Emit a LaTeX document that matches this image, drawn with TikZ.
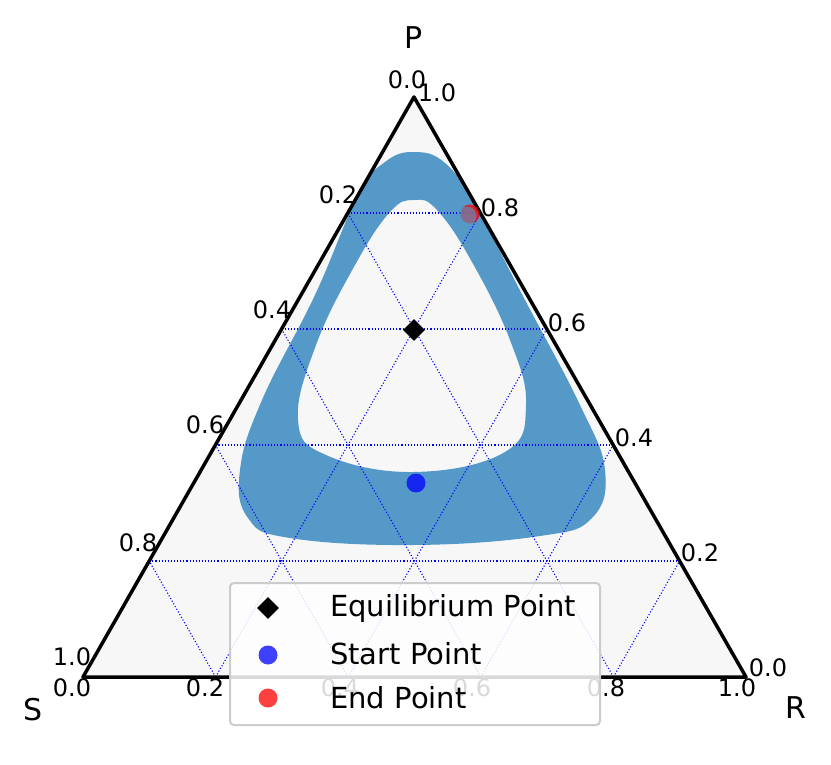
\documentclass[tikz,border=0pt]{standalone}
\usepackage{fontspec}
\setmainfont{DejaVu Sans}
\usetikzlibrary{calc,shapes.geometric}
\definecolor{band}{RGB}{84,153,199}
\definecolor{tri}{RGB}{247,247,247}
\tikzset{grid/.style={blue,dotted,line width=1.1pt},
 tick/.style={font=\fontsize{24}{24}\selectfont,inner sep=0pt},
 vlab/.style={font=\fontsize{30}{30}\selectfont,inner sep=0pt},
 leg/.style={font=\fontsize{29}{29}\selectfont,anchor=west,inner sep=0pt}}
\begin{document}
\begin{tikzpicture}[x=1pt,y=-1pt]
\useasboundingbox (0,0) rectangle (831,765);
\coordinate (S) at (83,677); \coordinate (R) at (746,677); \coordinate (P) at (414,97);
\fill[tri] (S)--(R)--(P)--cycle;
\fill[band,even odd rule] plot[smooth cycle,tension=0.7] coordinates {(414,152) (445,163) (475,205) (525,300) (580,405) (605,470) (592,518) (540,536) (414,545) (290,538) (248,518) (240,470) (262,400) (315,295) (358,195) (385,162)}
 plot[smooth cycle,tension=0.7] coordinates {(414,200) (437,210) (472,262) (510,340) (526,405) (505,452) (414,472) (326,455) (298,420) (316,345) (355,265) (390,212)};
\foreach \v in {0.2,0.4,0.6,0.8}{
 \draw[grid] ($(S)!\v!(P)$) -- ($(R)!\v!(P)$);
 \draw[grid] ($(S)!\v!(R)$) -- ($(P)!\v!(R)$);
 \draw[grid] ($(R)!\v!(S)$) -- ($(P)!\v!(S)$);
}
\draw[line width=3.5pt,line join=round] (S)--(R)--(P)--cycle;
\node[diamond,fill=black,minimum size=22pt,inner sep=0pt] (eq) at (414,330) {};
\node[circle,fill=blue,opacity=0.75,minimum size=19pt,inner sep=0pt] (st) at (416,483) {};
\node[circle,fill=red,opacity=0.75,minimum size=19pt,inner sep=0pt] (en) at (470,214) {};
\node[circle,fill=band,opacity=0.6,minimum size=19pt,inner sep=0pt] at (467,216) {};
% ticks
\node[tick] (l0) at (407,80) {0.0}; \node[tick] (l2) at (338,195) {0.2};
\node[tick] (l4) at (272,310) {0.4}; \node[tick] (l6) at (205,425) {0.6};
\node[tick] (l8) at (138,543) {0.8}; \node[tick] (l10) at (72,657) {1.0};
\node[tick] (r10) at (437,93) {1.0}; \node[tick] (r8) at (500,208) {0.8};
\node[tick] (r6) at (567,323) {0.6}; \node[tick] (r4) at (634,438) {0.4};
\node[tick] (r2) at (700,553) {0.2}; \node[tick] (r0) at (768,668) {0.0};
\node[tick] (b0) at (72,688) {0.0}; \node[tick] (b2) at (205,688) {0.2};
\node[tick] (b4) at (340,688) {0.4}; \node[tick] (b6) at (472,688) {0.6};
\node[tick] (b8) at (606,688) {0.8}; \node[tick] (b10) at (737,688) {1.0};
\node[vlab] (pl) at (414,38) {P}; \node[vlab] (sl) at (33,710) {S}; \node[vlab] (rl) at (796,708) {R};
% legend
\draw[gray!40,line width=2pt,fill=white,fill opacity=0.85,rounded corners=4pt] (230,583) rectangle (600,725);
\node[diamond,fill=black,minimum size=22pt,inner sep=0pt] (k1) at (268,608) {};
\node[circle,fill=blue,opacity=0.75,minimum size=19pt,inner sep=0pt] (k2) at (268,655) {};
\node[circle,fill=red,opacity=0.75,minimum size=19pt,inner sep=0pt] (k3) at (268,698) {};
\node[leg] (t1) at (330,608) {Equilibrium Point};
\node[leg] (t2) at (330,654) {Start Point};
\node[leg] (t3) at (330,698) {End Point};
\end{tikzpicture}
\end{document}
